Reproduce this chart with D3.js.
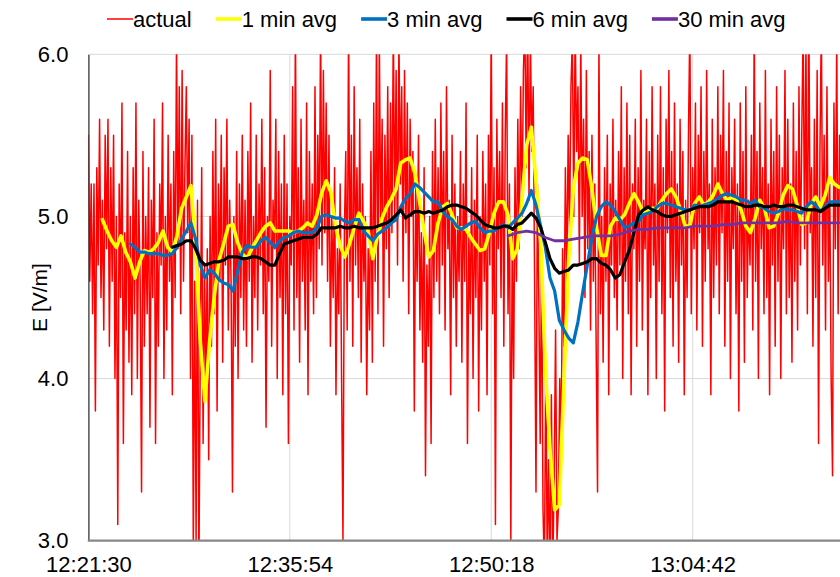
<!DOCTYPE html>
<html>
<head>
<meta charset="utf-8">
<script src="https://cdn.jsdelivr.net/npm/d3@7"></script>
<style>
  body { margin: 0; background: #fff; }
  svg { display: block; }
  text { font-family: "Liberation Sans", Arial, sans-serif; fill: #000; }
</style>
</head>
<body>
<svg id="chart" width="840" height="577"></svg>
<script>
// ---- data -------------------------------------------------------------
const startTime = "12:21:30";
const endOffset = 3224;                       // seconds shown on the time axis
const tickLabels = ["12:21:30", "12:35:54", "12:50:18", "13:04:42"];
const yTicks = [3.0, 4.0, 5.0, 6.0];
const yLabel = "E [V/m]";

const seriesNames  = ["actual", "1 min avg", "3 min avg", "6 min avg", "30 min avg"];
const seriesColors = ["#FF0000", "#FFFF00", "#0070C0", "#000000", "#7030A0"];

// raw field readings, one every 6 s from 12:21:30
const actualStart = 0, actualStep = 6;
const actual = [
  5.5,4.6,5.2,4.4,5.2,3.8,5.3,4.7,5.6,4.5,5.1,4.3,5.5,4.8,
  5.6,4.2,5.3,4.6,5.5,4.0,5.0,3.1,5.2,4.5,5.7,3.6,4.9,4.3,
  5.4,4.1,5.0,3.9,5.3,4.4,5.7,4.0,5.1,4.6,3.3,5.4,4.2,5.0,
  4.4,5.3,3.7,5.1,4.5,5.6,3.6,4.9,4.2,5.2,4.7,5.7,4.0,5.0,
  4.3,5.5,4.6,5.2,3.9,5.4,4.5,6.1,4.8,5.8,4.4,5.9,4.6,5.3,
  5.8,4.9,5.6,4.0,5.5,2.9,4.6,3.0,5.1,2.8,4.2,5.3,3.6,4.7,
  3.9,4.8,3.5,5.0,4.2,5.4,4.4,5.6,3.8,5.2,4.6,5.5,4.1,5.3,
  4.7,5.6,4.3,5.1,4.6,3.3,5.0,4.2,5.4,4.0,5.2,4.5,5.5,4.3,
  5.1,4.2,5.4,4.6,5.7,4.1,5.0,4.5,5.5,4.3,5.2,4.7,5.6,4.4,
  5.3,3.7,5.0,4.6,5.9,4.2,5.1,4.8,5.6,4.0,5.4,4.5,5.2,3.9,
  5.5,4.4,5.2,3.6,5.0,4.7,5.8,4.3,6.2,4.5,5.3,4.1,5.6,4.6,
  5.1,4.3,5.7,3.9,5.4,4.6,5.2,4.4,5.8,4.5,5.5,4.8,6.2,4.7,
  5.9,4.9,5.7,4.6,5.5,4.2,5.0,4.5,5.3,3.9,4.8,4.4,5.2,4.0,
  3.0,4.9,5.4,4.3,6.2,4.6,5.5,4.2,5.8,4.7,5.3,4.5,5.6,4.1,
  5.2,4.6,5.0,3.9,4.8,4.3,5.4,4.1,5.7,4.6,6.2,4.4,6.1,4.9,
  5.6,4.2,5.5,4.8,5.8,4.5,5.7,4.9,6.2,5.0,5.9,4.7,6.1,5.2,
  5.8,4.6,5.9,4.9,5.7,4.4,5.6,5.0,5.4,3.8,5.2,4.6,5.5,4.3,
  4.9,4.1,5.3,3.4,4.7,4.2,5.0,3.6,5.4,4.5,5.6,4.6,5.3,4.4,
  5.7,4.7,5.4,4.3,5.8,4.8,5.1,3.9,5.5,4.5,5.2,4.2,5.0,4.6,
  5.4,4.1,5.2,4.6,5.7,3.6,4.9,4.4,5.3,4.0,5.1,4.5,5.5,3.8,
  5.0,4.3,5.4,4.6,5.2,3.9,5.5,4.7,6.2,4.4,5.3,3.1,5.6,4.8,
  5.4,4.5,5.7,4.2,5.5,6.1,4.4,5.2,3.0,4.9,4.0,5.3,4.6,5.6,
  4.8,5.8,5.0,5.9,6.2,5.3,6.3,5.1,6.1,5.4,5.8,4.6,3.3,5.2,
  4.5,3.6,4.8,3.2,2.8,4.1,2.9,3.5,2.7,3.9,2.8,3.4,4.3,3.0,
  3.2,4.0,3.6,4.8,4.2,5.3,4.6,5.5,4.9,5.8,6.1,5.0,6.2,5.4,
  5.8,4.7,6.1,5.0,5.6,4.5,5.9,4.8,5.4,4.3,5.5,4.6,5.2,4.2,
  3.3,6.1,4.4,5.0,4.1,5.3,4.6,5.5,3.9,5.2,4.7,5.6,4.5,5.1,
  4.3,5.4,4.7,5.8,4.0,5.3,4.6,5.7,4.4,5.5,3.9,5.2,4.8,5.6,
  4.2,5.3,4.6,5.9,4.3,5.1,4.8,5.6,3.9,5.4,4.5,5.8,4.7,5.2,
  4.0,5.5,4.6,5.8,4.4,5.3,3.8,5.6,4.9,5.9,4.5,5.4,4.2,5.7,
  4.6,5.2,4.1,5.6,4.7,5.4,3.9,5.1,4.5,5.5,6.2,4.4,5.3,4.8,
  5.7,4.3,5.5,4.9,5.8,4.2,5.4,4.6,5.9,4.8,5.2,3.9,5.6,4.5,
  5.3,4.7,5.8,4.4,5.5,4.9,5.9,4.2,5.4,4.6,5.7,4.0,5.3,4.8,
  5.6,4.4,5.2,3.8,5.7,4.6,5.4,4.1,5.8,4.5,5.1,4.7,5.5,4.3,
  6.2,4.6,5.4,4.0,5.7,4.8,5.3,4.4,5.9,4.5,5.2,3.9,5.6,4.7,
  5.4,4.2,5.8,4.6,5.5,4.0,5.3,4.8,5.9,4.4,5.6,4.5,5.2,4.1,
  5.7,4.6,5.4,4.3,5.8,4.7,5.5,6.2,4.8,6.1,4.4,6.3,4.9,5.3,
  4.2,5.6,4.5,5.9,3.6,5.4,6.2,4.7,5.5,4.3,5.8,4.6,5.2,4.0,
  3.4,5.7,4.8,6.1,4.4,5.5
];

// 1 minute running average, every 20 s from 12:22:30
const avg1Start = 60, avg1Step = 20;
const avg1 = [
  4.98,4.91,4.85,4.81,4.88,4.78,4.72,4.62,4.72,4.79,4.78,4.80,4.84,4.91,4.81,4.78,
  4.88,5.05,5.12,5.19,4.82,4.23,3.86,4.23,4.51,4.73,4.83,4.94,4.95,4.84,4.77,4.74,
  4.80,4.85,4.90,4.94,4.96,4.91,4.91,4.91,4.91,4.90,4.91,4.93,4.96,4.94,5.01,5.14,
  5.22,5.15,4.94,4.82,4.75,4.83,4.93,5.02,4.97,4.91,4.74,4.88,4.99,5.06,5.11,5.17,
  5.33,5.35,5.36,5.27,5.10,4.91,4.75,4.79,4.96,5.06,5.08,5.01,4.93,4.93,4.92,4.87,
  4.83,4.79,4.80,4.90,5.02,5.09,5.09,5.01,4.74,4.80,5.11,5.44,5.55,5.22,4.85,4.07,
  3.57,3.19,3.22,3.99,4.73,5.17,5.33,5.36,5.35,5.17,4.93,4.76,4.76,4.94,4.99,4.98,
  5.01,5.08,5.14,5.09,5.02,5.03,5.05,5.05,5.10,5.14,5.17,5.12,5.04,4.94,4.94,5.08,
  5.12,5.07,5.09,5.13,5.20,5.14,5.10,5.12,5.10,5.04,4.94,4.90,4.99,5.10,5.05,4.93,
  4.94,5.02,5.13,5.19,5.17,5.07,4.95,4.96,5.08,5.12,5.06,5.13,5.24,5.20,5.18
];

// 3 minute running average, every 20 s from 12:24:30
const avg3Start = 180, avg3Step = 20;
const avg3 = [
  4.83,4.81,4.78,4.78,4.77,4.77,4.77,4.76,4.76,4.77,4.81,4.86,4.91,4.96,4.86,4.70,
  4.62,4.67,4.65,4.61,4.59,4.58,4.54,4.66,4.78,4.82,4.81,4.81,4.85,4.87,4.84,4.81,
  4.85,4.87,4.88,4.90,4.91,4.90,4.90,4.90,4.93,5.00,5.01,5.00,4.99,4.99,4.97,4.96,
  4.98,4.98,4.91,4.88,4.85,4.89,4.91,4.93,4.96,4.98,5.06,5.11,5.14,5.20,5.18,5.15,
  5.12,5.09,5.09,5.03,5.00,4.98,4.94,4.92,4.94,4.96,4.97,4.93,4.90,4.91,4.91,4.93,
  4.95,4.93,4.96,4.99,5.02,5.08,5.16,5.07,4.94,4.81,4.62,4.54,4.36,4.30,4.25,4.22,
  4.35,4.53,4.70,4.87,5.00,5.06,5.09,5.07,5.03,4.98,4.93,4.94,4.96,4.97,5.01,5.02,
  5.03,5.06,5.08,5.08,5.07,5.06,5.05,5.04,5.04,5.07,5.06,5.07,5.08,5.09,5.11,5.13,
  5.14,5.13,5.12,5.10,5.10,5.08,5.10,5.06,5.05,5.03,5.02,5.03,5.05,5.04,5.04,5.03,
  5.02,5.06,5.09,5.07,5.03,5.06,5.09,5.09,5.09
];

// 6 minute running average, every 20 s from 12:27:30
const avg6Start = 360, avg6Step = 20;
const avg6 = [
  4.81,4.82,4.83,4.85,4.85,4.80,4.73,4.70,4.71,4.72,4.72,4.73,4.75,4.75,4.75,4.74,
  4.74,4.75,4.75,4.74,4.72,4.70,4.70,4.77,4.83,4.84,4.85,4.86,4.87,4.87,4.87,4.89,
  4.93,4.93,4.93,4.93,4.94,4.93,4.93,4.94,4.93,4.93,4.93,4.93,4.94,4.95,4.96,4.98,
  5.01,5.04,4.99,5.01,5.03,5.03,5.02,5.03,5.02,5.03,5.04,5.06,5.07,5.07,5.06,5.05,
  5.03,5.01,4.98,4.95,4.94,4.93,4.93,4.94,4.94,4.92,4.95,4.96,4.99,5.02,4.99,4.93,
  4.84,4.74,4.68,4.65,4.66,4.67,4.70,4.70,4.71,4.72,4.74,4.74,4.71,4.70,4.67,4.62,
  4.64,4.72,4.79,4.90,5.01,5.04,5.06,5.04,5.03,5.01,5.00,5.00,5.01,5.02,5.03,5.04,
  5.05,5.06,5.06,5.06,5.07,5.09,5.09,5.09,5.09,5.08,5.07,5.06,5.06,5.07,5.07,5.06,
  5.06,5.07,5.06,5.06,5.07,5.07,5.06,5.05,5.04,5.04,5.04,5.03,5.05,5.07,5.07,5.07
];

// 30 minute running average, every 40 s from 12:51:30
const avg30Start = 1800, avg30Step = 40;
const avg30 = [
  4.88,4.90,4.91,4.90,4.87,4.85,4.85,4.86,4.87,4.88,4.88,4.88,4.89,4.91,4.92,4.92,
  4.93,4.93,4.93,4.93,4.94,4.94,4.94,4.95,4.95,4.96,4.96,4.96,4.96,4.96,4.97,4.96,
  4.96,4.96,4.96,4.96,4.96
];

// ---- layout -----------------------------------------------------------
const plot = { left: 88.4, right: 840, top: 54.3, bottom: 540.7 };
const fontSize = 22;

const svg = d3.select("#chart");
const parseClock = d3.utcParse("%H:%M:%S");
const fmtClock = d3.utcFormat("%H:%M:%S");
const t0 = parseClock(startTime);
const at = s => new Date(t0.getTime() + s * 1000);

const x = d3.scaleUtc()
  .domain([t0, at(endOffset)])
  .range([plot.left, plot.right]);
const y = d3.scaleLinear()
  .domain([3, 6])
  .range([plot.bottom, plot.top]);

const series = [
  { values: actual, start: actualStart, step: actualStep, width: 1.5 },
  { values: avg1,   start: avg1Start,   step: avg1Step,   width: 3.6 },
  { values: avg3,   start: avg3Start,   step: avg3Step,   width: 3.2 },
  { values: avg6,   start: avg6Start,   step: avg6Step,   width: 3.2 },
  { values: avg30,  start: avg30Start,  step: avg30Step,  width: 2.8 }
].map((s, i) => ({
  ...s,
  name: seriesNames[i],
  color: seriesColors[i],
  points: s.values.map((v, k) => ({ t: at(s.start + k * s.step), v }))
}));

// ---- gridlines --------------------------------------------------------
const tickDates = tickLabels.map(parseClock);

svg.append("g")
  .selectAll("line")
  .data(yTicks.filter(v => v > 3))
  .join("line")
  .attr("x1", plot.left).attr("x2", plot.right)
  .attr("y1", d => y(d)).attr("y2", d => y(d))
  .attr("stroke", "#D9D9D9").attr("stroke-width", 1);

svg.append("g")
  .selectAll("line")
  .data(tickDates.slice(1))
  .join("line")
  .attr("x1", d => x(d)).attr("x2", d => x(d))
  .attr("y1", plot.top).attr("y2", plot.bottom)
  .attr("stroke", "#D9D9D9").attr("stroke-width", 1);

// ---- series -----------------------------------------------------------
svg.append("defs").append("clipPath").attr("id", "plotClip")
  .append("rect")
  .attr("x", plot.left).attr("y", plot.top)
  .attr("width", plot.right - plot.left)
  .attr("height", plot.bottom - plot.top);

const line = d3.line().x(d => x(d.t)).y(d => y(d.v));

svg.append("g").attr("clip-path", "url(#plotClip)")
  .selectAll("path")
  .data(series)
  .join("path")
  .attr("d", d => line(d.points))
  .attr("fill", "none")
  .attr("stroke", d => d.color)
  .attr("stroke-width", d => d.width)
  .attr("stroke-linejoin", "round")
  .attr("stroke-linecap", "round");

// ---- axes -------------------------------------------------------------
const xAxis = d3.axisBottom(x)
  .tickValues(tickDates)
  .tickFormat(fmtClock)
  .tickSize(0)
  .tickPadding(16);
const gx = svg.append("g")
  .attr("transform", `translate(0,${plot.bottom})`)
  .call(xAxis);
gx.select(".domain").remove();
gx.selectAll("text").attr("font-size", fontSize).attr("fill", "#000")
  .attr("font-family", "'Liberation Sans', Arial, sans-serif");

const yAxis = d3.axisLeft(y)
  .tickValues(yTicks)
  .tickFormat(d3.format(".1f"))
  .tickSize(0)
  .tickPadding(20);
const gy = svg.append("g")
  .attr("transform", `translate(${plot.left},0)`)
  .call(yAxis);
gy.select(".domain").attr("stroke", "#262626").attr("stroke-width", 1.2);
gy.selectAll("text").attr("font-size", fontSize).attr("fill", "#000")
  .attr("font-family", "'Liberation Sans', Arial, sans-serif");

// horizontal axis line, drawn over the vertical one
svg.append("line")
  .attr("x1", plot.left - 0.6).attr("x2", plot.right)
  .attr("y1", plot.bottom).attr("y2", plot.bottom)
  .attr("stroke", "#878787").attr("stroke-width", 2.2);

svg.append("text")
  .attr("transform", `translate(47,${(plot.top + plot.bottom) / 2}) rotate(-90)`)
  .attr("text-anchor", "middle")
  .attr("font-size", 21)
  .text(yLabel);

// ---- legend -----------------------------------------------------------
const legend = svg.append("g").attr("transform", "translate(107,19)");
let cursor = 0;
series.forEach(s => {
  const g = legend.append("g").attr("transform", `translate(${cursor},0)`);
  g.append("line")
    .attr("x1", 0).attr("x2", 26).attr("y1", 0).attr("y2", 0)
    .attr("stroke", s.color)
    .attr("stroke-width", s.name === "actual" ? 1.5 : 3.6);
  const txt = g.append("text")
    .attr("x", 26).attr("y", 8)
    .attr("font-size", fontSize)
    .text(s.name);
  cursor += 26 + txt.node().getComputedTextLength() + 24;
});
</script>
</body>
</html>
